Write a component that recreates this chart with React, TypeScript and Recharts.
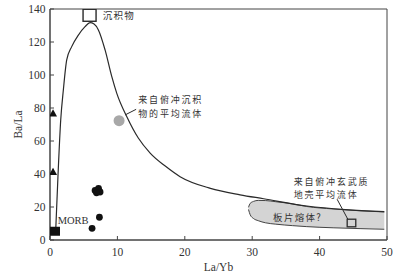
import React from "react";
import {
  ComposedChart,
  Line,
  Area,
  Scatter,
  XAxis,
  YAxis,
  ReferenceLine,
  ReferenceArea,
  Label,
} from "recharts";

// ---- data ----
const xTicks = [0, 10, 20, 30, 40, 50];
const yTicks = [0, 20, 40, 60, 80, 100, 120, 140];

// mixing curve
const curveX = [0.85, 1.19, 1.59, 1.98, 2.48, 3.22, 4.21, 5.2, 5.94, 6.54, 7.18, 8.17, 9.17, 9.91, 11.4, 13.1, 14.86, 17.1, 19.3, 23.8, 28.2, 31.7, 38.1, 43.8, 49.6];
const curveY = [6.1, 39.4, 72.7, 90.9, 109.1, 117.2, 124.2, 129.3, 131.7, 130.9, 127.3, 115.2, 99.0, 88.9, 74.7, 61.8, 52.7, 44.8, 38.4, 31.3, 27.4, 25.0, 20.6, 18.4, 17.2];

// slab melt field (lower / upper bounds)
const meltX = [29.45, 29.7, 30.2, 30.9, 32, 33.5, 36, 38.1, 42, 46, 49.6];
const meltLo = [18.5, 15.3, 13, 11.7, 10.4, 9.6, 8.7, 8.1, 7.4, 6.9, 6.5];
const meltHi = [19.8, 22.2, 23.4, 24.0, 23.9, 23.2, 21.9, 20.3, 18.8, 17.7, 17.0];

const triangles = [
  { x: 0.45, y: 76.8 },
  { x: 0.45, y: 41.4 },
];
const morb = [{ x: 0.74, y: 5.3 }];
const dots = [
  { x: 6.69, y: 30.0 },
  { x: 7.2, y: 31.2 },
  { x: 7.43, y: 29.1 },
  { x: 6.9, y: 28.6 },
  { x: 7.33, y: 13.8 },
  { x: 6.24, y: 7.1 },
];
const sediment = [{ x: 5.87, y: 136.2 }];
const sedFluid = [{ x: 10.25, y: 72.3 }];
const basFluid = [{ x: 44.73, y: 10.3 }];

const leaders = [
  { x1: 11.14, y1: 75.8, x2: 12.78, y2: 79.2 },
  { x1: 44.2, y1: 12.5, x2: 42.6, y2: 24.7 },
];

const labels = [
  { x: 7.83, y: 136.4, lines: ["沉积物"], serif: false },
  { x: 1.14, y: 12.1, lines: ["MORB"], serif: true },
  { x: 13.1, y: 85.2, lines: ["来自俯冲沉积", "物的平均流体"], serif: false },
  { x: 36.15, y: 35.6, lines: ["来自俯冲玄武质", "地壳平均流体"], serif: false },
  { x: 33.1, y: 14.1, lines: ["板片熔体?"], serif: false },
];

const curveData = curveX.map((x, i) => ({ x, y: curveY[i] }));
const meltData = meltX.map((x, i) => ({ x, range: [meltLo[i], meltHi[i]] }));

const SERIF = "'Liberation Serif', 'DejaVu Serif', serif";
const CJK = "'Noto Sans CJK SC', sans-serif";
const INK = "#2a2a2a";

const Triangle = (p: any) => (
  <polygon
    points={`${p.cx},${p.cy - 4} ${p.cx - 4},${p.cy + 3.2} ${p.cx + 4},${p.cy + 3.2}`}
    fill="#111"
  />
);
const FilledSquare = (p: any) => (
  <rect x={p.cx - 5} y={p.cy - 4.5} width={10} height={9} fill="#111" />
);
const Dot = (p: any) => <circle cx={p.cx} cy={p.cy} r={3.4} fill="#111" />;
const BigOpenSquare = (p: any) => (
  <rect x={p.cx - 6.5} y={p.cy - 6} width={13} height={12} fill="#fff" stroke={INK} strokeWidth={1.4} />
);
const SmallOpenSquare = (p: any) => (
  <rect x={p.cx - 4.3} y={p.cy - 3.8} width={8.6} height={7.6} fill="none" stroke={INK} strokeWidth={1.3} />
);
const GrayDot = (p: any) => <circle cx={p.cx} cy={p.cy} r={5.5} fill="#a8a8a8" />;

const TextMark = (p: any) => {
  const d = p.payload;
  const multi = d.lines.length > 1;
  const fs = d.serif ? 10.5 : multi ? 9 : 9.5;
  return (
    <text
      x={p.cx}
      y={p.cy}
      dominantBaseline="central"
      fill="#333"
      fontFamily={d.serif ? SERIF : CJK}
      fontSize={fs}
      letterSpacing={d.serif ? 0 : multi ? 1.8 : 1.3}
    >
      {d.lines.map((t: string, i: number) => (
        <tspan key={i} x={p.cx} dy={i === 0 ? 0 : 13.2}>
          {t}
        </tspan>
      ))}
    </text>
  );
};

const tickStyle = { fill: "#333", fontSize: 11.5, fontFamily: SERIF };

export default function App() {
  return (
    <div style={{ position: "absolute", left: 0, top: 0, width: 410, height: 276, background: "#fff" }}>
      <ComposedChart
        width={410}
        height={276}
        margin={{ top: 9, right: 23, bottom: 0, left: 0 }}
      >
        <XAxis
          dataKey="x"
          type="number"
          domain={[0, 50]}
          ticks={xTicks}
          allowDataOverflow
          tickSize={-4}
          tickMargin={12}
          height={36}
          tick={tickStyle}
          stroke="#444"
          tickLine={{ stroke: "#444" }}
        >
          <Label
            value="La/Yb"
            position="insideBottom"
            offset={5}
            style={{ fill: "#333", fontSize: 11.5, fontFamily: SERIF }}
          />
        </XAxis>
        <YAxis
          type="number"
          domain={[0, 140]}
          ticks={yTicks}
          allowDataOverflow
          width={50}
          tickSize={-4}
          tickMargin={8.5}
          tick={tickStyle}
          stroke="#444"
          tickLine={{ stroke: "#444" }}
        >
          <Label
            value="Ba/La"
            angle={-90}
            position="insideLeft"
            offset={18}
            style={{ fill: "#333", fontSize: 11.5, fontFamily: SERIF, textAnchor: "middle" }}
          />
        </YAxis>
        <ReferenceArea x1={0} x2={50} y1={0} y2={140} fill="none" stroke="#444" strokeWidth={1} />
        <Area
          data={meltData}
          dataKey="range"
          type="monotone"
          fill="#d4d4d4"
          fillOpacity={1}
          stroke="#444"
          strokeWidth={1}
          isAnimationActive={false}
          dot={false}
          activeDot={false}
        />
        <Line
          data={curveData}
          dataKey="y"
          type="monotone"
          stroke={INK}
          strokeWidth={1.2}
          dot={false}
          activeDot={false}
          isAnimationActive={false}
        />
        {leaders.map((l, i) => (
          <ReferenceLine
            key={i}
            segment={[
              { x: l.x1, y: l.y1 },
              { x: l.x2, y: l.y2 },
            ]}
            stroke={INK}
            strokeWidth={1}
          />
        ))}
        <Scatter data={triangles} dataKey="y" shape={Triangle} isAnimationActive={false} />
        <Scatter data={morb} dataKey="y" shape={FilledSquare} isAnimationActive={false} />
        <Scatter data={dots} dataKey="y" shape={Dot} isAnimationActive={false} />
        <Scatter data={sediment} dataKey="y" shape={BigOpenSquare} isAnimationActive={false} />
        <Scatter data={sedFluid} dataKey="y" shape={GrayDot} isAnimationActive={false} />
        <Scatter data={basFluid} dataKey="y" shape={SmallOpenSquare} isAnimationActive={false} />
        <Scatter data={labels} dataKey="y" shape={TextMark} isAnimationActive={false} />
      </ComposedChart>
    </div>
  );
}
